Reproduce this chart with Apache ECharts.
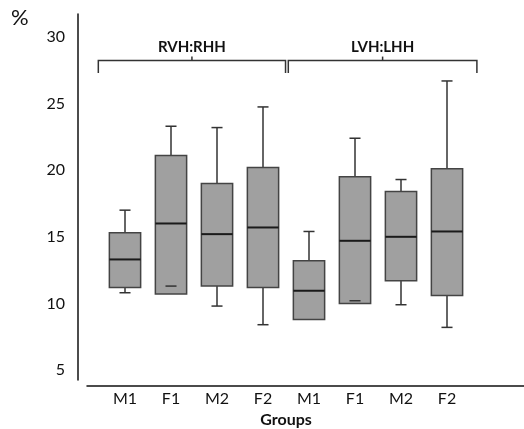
<!DOCTYPE html>
<html>
<head>
<meta charset="utf-8">
<script src="https://cdn.jsdelivr.net/npm/echarts@6/dist/echarts.min.js"></script>
<style>
  html, body { margin: 0; padding: 0; background: #fff; }
  #chart { width: 524px; height: 429px; }
</style>
</head>
<body>
<div id="chart"></div>
<script>
// groups on the x axis
const categories = ['M1', 'F1', 'M2', 'F2', 'M1', 'F1', 'M2', 'F2']

// box statistics (%)
const whiskerLow = [10.8, 11.3, 9.8, 8.4, 8.8, 10.2, 9.9, 8.2]
const q1 = [11.2, 10.7, 11.3, 11.2, 8.8, 10.0, 11.7, 10.6]
const median = [13.3, 16.0, 15.2, 15.7, 10.95, 14.7, 15.0, 15.4]
const q3 = [15.3, 21.1, 19.0, 20.2, 13.2, 19.5, 18.4, 20.1]
const whiskerHigh = [17.0, 23.3, 23.2, 24.75, 15.4, 22.4, 19.3, 26.7]

// y ticks
const yTicks = [5, 10, 15, 20, 25, 30]

// bracket annotations over the two halves (in category units)
const groupLabels = ['RVH:RHH', 'LVH:LHH']
const groupFrom = [-0.58, 3.55]
const groupTo = [3.49, 7.65]
const bracketLevel = 28.23

const FONT = 'Lato'
const INK = '#111'

const boxData = categories.map((c, i) => [i, whiskerLow[i], q1[i], median[i], q3[i], whiskerHigh[i]])
const bracketData = groupLabels.map((g, i) => [i, groupFrom[i], groupTo[i], bracketLevel])

function renderBox (params, api) {
  const i = api.value(0)
  const lo = api.coord([i, api.value(1)])
  const b1 = api.coord([i, api.value(2)])
  const md = api.coord([i, api.value(3)])
  const b3 = api.coord([i, api.value(4)])
  const hi = api.coord([i, api.value(5)])
  const band = api.size([1, 0])[0]
  const x = md[0]
  const w = band * 0.68
  const cap = band * 0.24
  const line = { stroke: '#333', lineWidth: 1.5 }
  const children = [
    { type: 'line', shape: { x1: x, y1: b3[1], x2: x, y2: hi[1] }, style: line },
    { type: 'line', shape: { x1: x, y1: b1[1], x2: x, y2: lo[1] }, style: line },
    { type: 'rect', shape: { x: x - w / 2, y: b3[1], width: w, height: b1[1] - b3[1] },
      style: { fill: '#a0a0a0', stroke: '#444', lineWidth: 1.5 } },
    { type: 'line', shape: { x1: x - w / 2, y1: md[1], x2: x + w / 2, y2: md[1] },
      style: { stroke: '#1a1a1a', lineWidth: 2 } },
    { type: 'line', shape: { x1: x - cap / 2, y1: hi[1], x2: x + cap / 2, y2: hi[1] }, style: line }
  ]
  if (api.value(1) !== api.value(2)) {
    children.push({ type: 'line', shape: { x1: x - cap / 2, y1: lo[1], x2: x + cap / 2, y2: lo[1] }, style: line })
  }
  return { type: 'group', children }
}

function renderBracket (params, api) {
  const base = api.coord([0, api.value(3)])
  const band = api.size([1, 0])[0]
  const x1 = base[0] + api.value(1) * band
  const x2 = base[0] + api.value(2) * band
  const y = base[1]
  const mid = (x1 + x2) / 2
  const st = { stroke: '#333', lineWidth: 1.5, fill: null }
  return {
    type: 'group',
    children: [
      { type: 'polyline', shape: { points: [[x1, y + 12.5], [x1, y], [x2, y], [x2, y + 12.5]] }, style: st },
      { type: 'line', shape: { x1: mid, y1: y, x2: mid, y2: y - 4 }, style: st },
      { type: 'text', x: mid, y: y - 5.5,
        style: { text: groupLabels[params.dataIndex], fill: INK, font: 'bold 15px ' + FONT,
          align: 'center', verticalAlign: 'bottom' } }
    ]
  }
}

const chart = echarts.init(document.getElementById('chart'))
chart.setOption({
  animation: false,
  title: {
    text: '%', left: 11, top: 7, padding: 0,
    textStyle: { fontFamily: FONT, fontSize: 22, fontWeight: 'normal', color: INK }
  },
  grid: [
    // x axis line
    { left: 87, right: 0, top: 14, bottom: 43, outerBoundsMode: 'none' },
    // y axis line
    { left: 78, width: 1, top: 14, bottom: 49, outerBoundsMode: 'none' },
    // data
    { left: 102, right: 54, top: 37, bottom: 59, outerBoundsMode: 'none' }
  ],
  xAxis: [
    { gridIndex: 0, type: 'value', min: 0, max: 1,
      axisLine: { show: true, lineStyle: { color: INK, width: 1.5 } },
      axisTick: { show: false }, axisLabel: { show: false }, splitLine: { show: false } },
    { gridIndex: 1, type: 'value', show: false },
    { gridIndex: 2, type: 'category', data: categories, offset: 16,
      axisLine: { show: false }, axisTick: { show: false },
      axisLabel: { margin: 5, fontFamily: FONT, fontSize: 16, color: INK },
      name: 'Groups', nameLocation: 'middle', nameGap: 22,
      nameTextStyle: { fontFamily: FONT, fontSize: 16, fontWeight: 'bold', color: INK } }
  ],
  yAxis: [
    { gridIndex: 0, type: 'value', show: false },
    { gridIndex: 1, type: 'value', min: 0, max: 1,
      axisLine: { show: true, lineStyle: { color: INK, width: 1.5 } },
      axisTick: { show: false }, axisLabel: { show: false }, splitLine: { show: false } },
    { gridIndex: 2, type: 'value', min: yTicks[0], max: yTicks[yTicks.length - 1],
      interval: yTicks[1] - yTicks[0], offset: 24,
      axisLine: { show: false }, axisTick: { show: false }, splitLine: { show: false },
      axisLabel: { margin: 13, fontFamily: FONT, fontSize: 16, color: INK } }
  ],
  series: [
    { type: 'custom', xAxisIndex: 2, yAxisIndex: 2, data: boxData, renderItem: renderBox, clip: false },
    { type: 'custom', xAxisIndex: 2, yAxisIndex: 2, data: bracketData, renderItem: renderBracket, clip: false }
  ]
})
</script>
</body>
</html>
